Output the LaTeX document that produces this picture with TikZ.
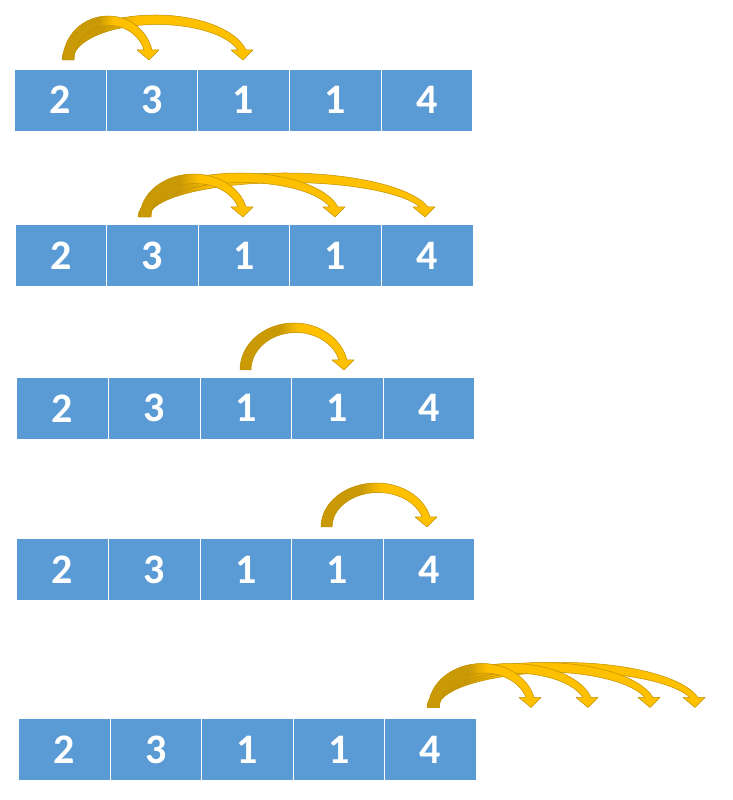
\documentclass[tikz,border=0pt]{standalone}
\usepackage{fontspec}
\setmainfont{Carlito}
\definecolor{cellblue}{HTML}{5B9BD5}
\definecolor{gbright}{HTML}{FFC000}
\definecolor{gdark}{HTML}{C99A06}
\definecolor{gline}{HTML}{BF9000}
\tikzset{
  cell/.style={draw=white, line width=0.8pt, fill=cellblue, minimum width=91.6pt,
    minimum height=62pt, inner sep=0pt, text=white,
    font=\fontsize{42}{42}\selectfont\bfseries},
}
% curved down arrow: #1 foot left x, #2 tip x, #3 foot bottom y, #4 outer height
\newcommand\carrow[4]{%
  \pgfmathsetmacro\cawa{11}%
  \pgfmathsetmacro\cawb{8}%
  \pgfmathsetmacro\cahh{10}%
  \pgfmathsetmacro\cahw{7}%
  \pgfmathsetmacro\caxo{#2-1+\cawb/2}%
  \pgfmathsetmacro\caxi{#2-1-\cawb/2}%
  \pgfmathsetmacro\caRy{#4}%
  \pgfmathsetmacro\caco{sqrt(1-(\cahh/\caRy)^2)}%
  \pgfmathsetmacro\caRx{(\caxo-#1)/(1+\caco)}%
  \pgfmathsetmacro\catho{asin(\cahh/\caRy)}%
  \pgfmathsetmacro\caRyi{#4-(\cawa+\cawb)/2}%
  \pgfmathsetmacro\caci{sqrt(1-(\cahh/\caRyi)^2)}%
  \pgfmathsetmacro\caRxi{(\caxi-#1-\cawa)/(1+\caci)}%
  \pgfmathsetmacro\cathi{asin(\cahh/\caRyi)}%
  \pgfmathsetmacro\caDa{min(0.8*\caRx,40)}%
  \pgfmathsetmacro\caDb{min(\caRx+5,75)}%
  \def\apath{(#1,#3) arc[start angle=180,end angle=\catho,x radius=\caRx,y radius=\caRy]
    -- (\caxo+\cahw,#3+\cahh) -- (#2,#3) -- (\caxi-\cahw,#3+\cahh) -- (\caxi,#3+\cahh)
    arc[start angle=\cathi,end angle=180,x radius=\caRxi,y radius=\caRyi] -- cycle}%
  \fill[gbright] \apath;
  \begin{scope}
    \clip \apath;
    \fill[gdark] (#1-2,#3-2) rectangle (#1+\caDa,#3+#4+2);
    \shade[left color=gdark,right color=gbright] (#1+\caDa,#3-2) rectangle (#1+\caDb,#3+#4+2);
  \end{scope}
  \draw[gline, line width=0.5pt, line join=round] \apath;
}
\begin{document}
\begin{tikzpicture}[x=1pt,y=1pt]
\useasboundingbox (0,0) rectangle (733,800);
\fill[white] (0,0) rectangle (733,800);

% rows of cells
\foreach \v [count=\i] in {2,3,1,1,4}
  \node[cell] (r1c\i) at (14.5+45.8+\i*91.6-91.6, 700) {\v};
\foreach \v [count=\i] in {2,3,1,1,4}
  \node[cell] (r2c\i) at (15+45.8+\i*91.6-91.6, 544.2) {\v};
\foreach \v [count=\i] in {2,3,1,1,4}
  \node[cell] (r3c\i) at (16.7+45.8+\i*91.6-91.6, 391.7) {\v};
\foreach \v [count=\i] in {2,3,1,1,4}
  \node[cell] (r4c\i) at (16.7+45.8+\i*91.6-91.6, 230.3) {\v};
\foreach \v [count=\i] in {2,3,1,1,4}
  \node[cell] (r5c\i) at (18.3+45.8+\i*91.6-91.6, 50.5) {\v};

% arrows row 1
\carrow{62}{243}{740}{45}
\carrow{63}{149}{740}{44}
% row 2
\carrow{138}{425}{583}{44}
\carrow{139}{335}{583}{44}
\carrow{140}{243}{583}{43}
% row 3
\carrow{240}{344}{430}{47}
% row 4
\carrow{321}{427}{273}{44}
% row 5
\carrow{427}{695}{92.5}{45}
\carrow{427.5}{650}{92.5}{45}
\carrow{428}{588}{92.5}{44}
\carrow{428.5}{531}{92.5}{44}
\end{tikzpicture}
\end{document}
